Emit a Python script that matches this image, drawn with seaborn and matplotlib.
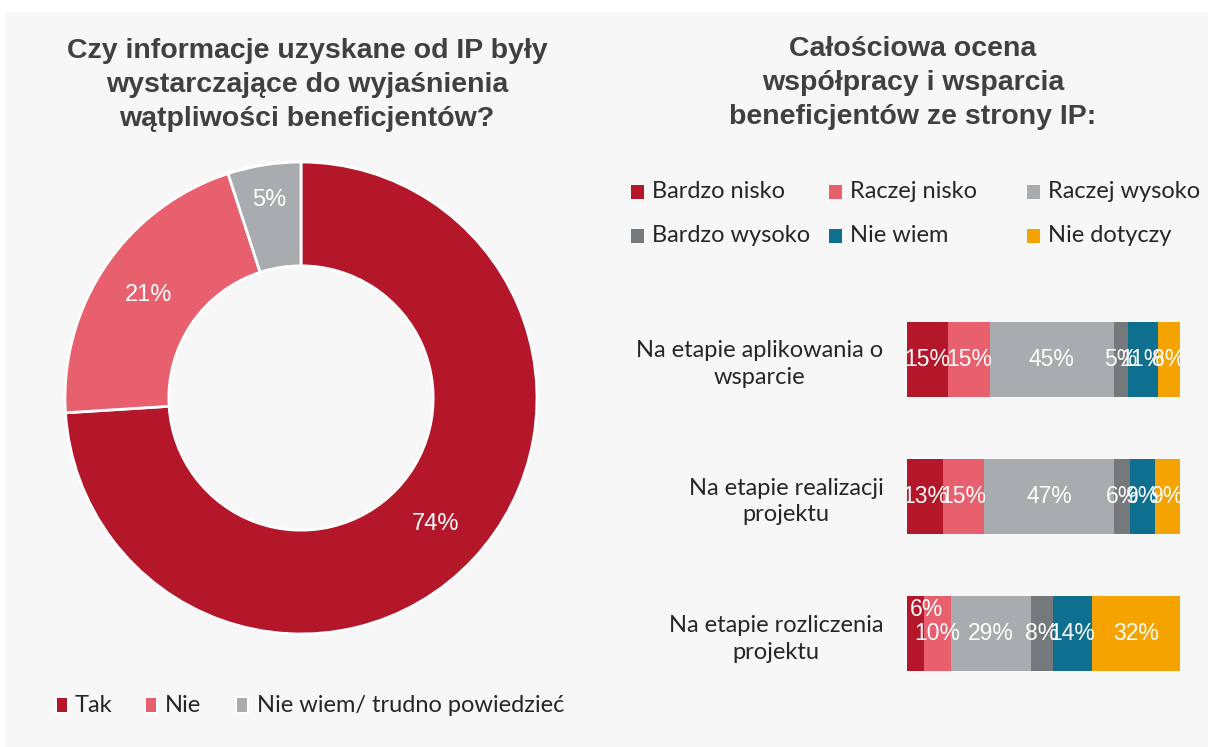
import numpy as np
import pandas as pd
import matplotlib.pyplot as plt
import seaborn as sns
from matplotlib.patches import Rectangle

# dane - wykres pierścieniowy
pie_labels = ['Tak', 'Nie', 'Nie wiem/ trudno powiedzieć']
pie_values = [74, 21, 5]
pie_colors = ['#b5172a', '#e8606d', '#a8acaf']

# dane - wykres słupkowy (skumulowany)
etapy = ['Na etapie aplikowania o\nwsparcie',
         'Na etapie realizacji\nprojektu',
         'Na etapie rozliczenia\nprojektu']
oceny = ['Bardzo nisko', 'Raczej nisko', 'Raczej wysoko',
         'Bardzo wysoko', 'Nie wiem', 'Nie dotyczy']
bardzo_nisko = [15, 13, 6]
raczej_nisko = [15, 15, 10]
raczej_wysoko = [45, 47, 29]
bardzo_wysoko = [5, 6, 8]
nie_wiem = [11, 9, 14]
nie_dotyczy = [8, 9, 32]
bar_colors = ['#b5172a', '#e8606d', '#a8acaf', '#75797c', '#0e6f8f', '#f5a300']

title_left = 'Czy informacje uzyskane od IP były\nwystarczające do wyjaśnienia\nwątpliwości beneficjentów?'
title_right = 'Całościowa ocena\nwspółpracy i wsparcia\nbeneficjentów ze strony IP:'

sns.set_theme(style='white')
plt.rcParams['font.family'] = ['Liberation Sans', 'DejaVu Sans']

W, H = 1208, 747
fig = plt.figure(figsize=(W / 100, H / 100), dpi=100)
fig.patch.set_facecolor('white')
# tło panelu
fig.patches.append(Rectangle((5 / W, 0), 1, (H - 12) / H, transform=fig.transFigure,
                             facecolor='#f7f7f7', edgecolor='none', zorder=-10))

def px(x, y):
    # piksele (od lewego górnego rogu) -> współrzędne figury
    return x / W, 1 - y / H

title_kw = dict(ha='center', va='center', fontsize=20.5, fontweight='bold',
                color='#404040', linespacing=1.4)
fig.text(*px(307, 85), title_left, **title_kw)
fig.text(*px(913, 83), title_right, **title_kw)

# ---------------- wykres pierścieniowy
ax1 = fig.add_axes([65 / W, 1 - 634 / H, 472 / W, 472 / H])
ax1.set_facecolor('none')
wedges, _ = ax1.pie(pie_values, colors=pie_colors, startangle=90, counterclock=False,
                    radius=1, wedgeprops=dict(width=0.44, edgecolor='white', linewidth=2))
ax1.set_xlim(-1, 1)
ax1.set_ylim(-1, 1)
for w, v in zip(wedges, pie_values):
    ang = np.deg2rad((w.theta1 + w.theta2) / 2)
    r = 0.78 if v > 10 else 0.85
    ax1.text(r * np.cos(ang), r * np.sin(ang), f'{v}%', ha='center', va='center',
             color='white', fontsize=17)

# legenda pierścienia
leg_font = ['Lato', 'DejaVu Sans']
for (mx, tx), name, c in zip([(57, 75), (146, 165), (237, 257)], pie_labels, pie_colors):
    fig.patches.append(Rectangle(px(mx - 2, 714), 14 / W, 18 / H, transform=fig.transFigure,
                                 facecolor='white', edgecolor='none'))
    fig.patches.append(Rectangle(px(mx, 712), 10 / W, 14 / H, transform=fig.transFigure,
                                 facecolor=c, edgecolor='none'))
    fig.text(*px(tx, 706), name, ha='left', va='center', fontsize=17,
             color='#262626', family=leg_font)

# ---------------- wykres słupkowy
df = pd.DataFrame({'etap': etapy})
for name, vals in zip(oceny, [bardzo_nisko, raczej_nisko, raczej_wysoko,
                              bardzo_wysoko, nie_wiem, nie_dotyczy]):
    df[name] = vals
cum = df[oceny].cumsum(axis=1)

ax2 = fig.add_axes([907 / W, 1 - 702.5 / H, 273 / W, 412 / H])
ax2.set_facecolor('none')
for name, c in reversed(list(zip(oceny, bar_colors))):
    sns.barplot(x=cum[name], y=df['etap'], color=c, orient='h', width=0.545,
                saturation=1, linewidth=0, ax=ax2)

for i in range(len(etapy)):
    for name in oceny:
        v = df.loc[i, name]
        xc = cum.loc[i, name] - v / 2
        yc = i
        if i == 2 and name == 'Bardzo nisko':
            xc, yc = xc + 4, i - 0.175
        ax2.text(xc, yc, f'{v}%', ha='center', va='center', color='white', fontsize=16.5)

ax2.set_xlim(0, 99)
ax2.set_ylim(2.5, -0.5)
ax2.set_xlabel('')
ax2.set_ylabel('')
ax2.set_xticks([])
sns.despine(ax=ax2, left=True, bottom=True)
ax2.tick_params(axis='y', length=0, pad=17)
for lab in ax2.get_yticklabels():
    lab.set_fontsize(17)
    lab.set_family(leg_font)
    lab.set_color('#262626')
    lab.set_multialignment('center')
    lab.set_linespacing(1.35)

# legenda słupków
cols_x = [(631, 652), (829, 850), (1027, 1048)]
rows_y = [192, 236]
for k, (name, c) in enumerate(zip(oceny, bar_colors)):
    (mx, tx), y = cols_x[k % 3], rows_y[k // 3]
    fig.patches.append(Rectangle(px(mx, y + 7), 13 / W, 14 / H, transform=fig.transFigure,
                                 facecolor=c, edgecolor='none'))
    fig.text(*px(tx, y), name, ha='left', va='center', fontsize=17,
             color='#262626', family=leg_font)

fig.savefig('out.png', dpi=100)
